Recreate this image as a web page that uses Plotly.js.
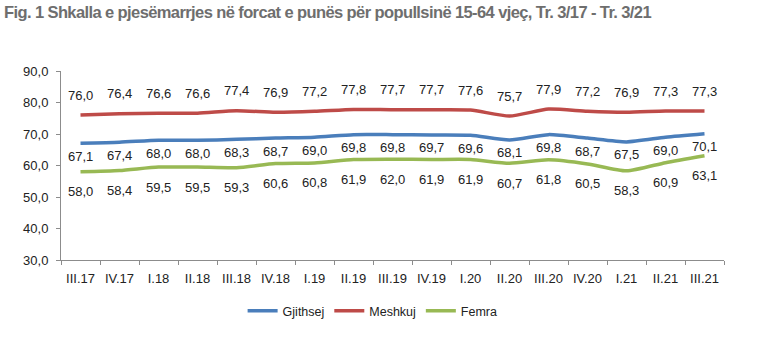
<!DOCTYPE html>
<html><head><meta charset="utf-8">
<script src="https://cdn.plot.ly/plotly-3.0.1.min.js"></script>
<style>html,body{margin:0;padding:0;background:#fff}#c{width:761px;height:354px}
.gtitle{letter-spacing:-0.6px}</style>
</head><body><div id="c"></div>
<script>
const categories = ["III.17","IV.17","I.18","II.18","III.18","IV.18","I.19","II.19","III.19","IV.19","I.20","II.20","III.20","IV.20","I.21","II.21","III.21"];
const gjithsej = [67.1,67.4,68.0,68.0,68.3,68.7,69.0,69.8,69.8,69.7,69.6,68.1,69.8,68.7,67.5,69.0,70.1];
const meshkuj = [76.0,76.4,76.6,76.6,77.4,76.9,77.2,77.8,77.7,77.7,77.6,75.7,77.9,77.2,76.9,77.3,77.3];
const femra = [58.0,58.4,59.5,59.5,59.3,60.6,60.8,61.9,62.0,61.9,61.9,60.7,61.8,60.5,58.3,60.9,63.1];
const seriesNames = ["Gjithsej","Meshkuj","Femra"];
const colors = ["#4a7ebb","#be4b48","#98b954"];
const shifts = [-13, 20, -20];
const data = [gjithsej, meshkuj, femra];

const fmt = v => v.toFixed(1).replace('.', ',');
const traces = data.map((d,i)=>({
  x: categories, y: d, name: seriesNames[i], type:'scatter', mode:'lines', legendgroup:'g'+i,
  line:{color:colors[i], width:3.5, shape:'spline', smoothing:0.6},
  hoverinfo:'skip'
}));
const annotations = [];
data.forEach((d,i)=>{
  d.forEach((v,j)=>{
    annotations.push({x:categories[j], y:v, text:fmt(v), showarrow:false, yshift:shifts[i],
      font:{family:'Arial, Liberation Sans, sans-serif', size:13, color:'#222'}});
  });
});
const layout = {
  width:761, height:354,
  margin:{l:61, r:37, t:71, b:94},
  paper_bgcolor:'#fff', plot_bgcolor:'#fff',
  separators:', ',
  title:{text:'Fig. 1 Shkalla e pjesëmarrjes në forcat e punës për popullsinë 15-64 vjeç, Tr. 3/17 - Tr. 3/21',
    x:4/761, xanchor:'left', xref:'container', y:1-12/354, yref:'container', yanchor:'middle',
    font:{family:'Arial, Liberation Sans, sans-serif', size:16.5, color:'#6e6e6e', weight:'bold'}},
  xaxis:{type:'category', showgrid:false, showline:true, linecolor:'#8c8c8c', linewidth:1,
    ticks:'outside', tickson:'boundaries', ticklen:4, tickcolor:'#8c8c8c', ticklabelstandoff:6,
    tickfont:{family:'Arial, Liberation Sans, sans-serif', size:13, color:'#222'}, range:[-0.5,16.5]},
  yaxis:{range:[30,90], dtick:10, tickformat:'.1f', showgrid:false, zeroline:false, showline:true,
    linecolor:'#8c8c8c', linewidth:1, ticks:'outside', ticklen:4, tickcolor:'#8c8c8c', ticklabelstandoff:5,
    tickfont:{family:'Arial, Liberation Sans, sans-serif', size:13, color:'#222'}},
  legend:{orientation:'h', x:0.47, xanchor:'center', y:-0.27, yanchor:'middle', traceorder:'grouped', tracegroupgap:24,
    font:{family:'Arial, Liberation Sans, sans-serif', size:12.5, color:'#222'}, itemwidth:30},
  annotations: annotations,
  showlegend:true
};
Plotly.newPlot('c', traces, layout, {displayModeBar:false, staticPlot:true});
</script></body></html>
